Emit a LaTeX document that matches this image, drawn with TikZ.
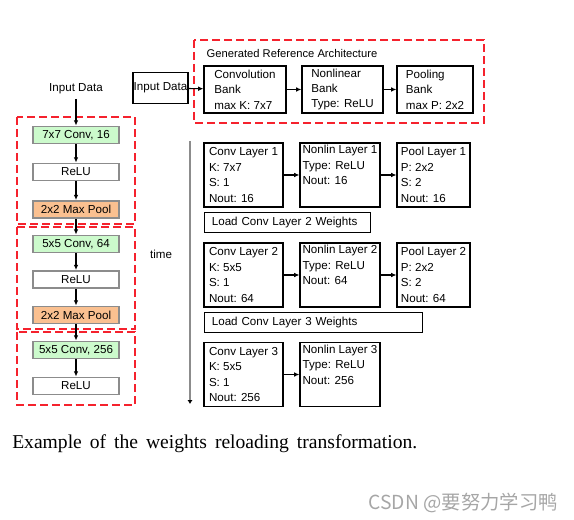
\documentclass[tikz,border=0pt]{standalone}
\usepackage{fontspec}
\setmainfont{Liberation Sans}
\newfontfamily\capfont{Liberation Serif}
\newfontfamily\cjkfont{Noto Sans CJK SC}
\usepackage{tikz}
\usetikzlibrary{arrows.meta,positioning}
\definecolor{convgreen}{HTML}{CCFACC}
\definecolor{poolorange}{HTML}{FAC090}
\definecolor{edgegray}{HTML}{8C8C8C}
\definecolor{dashred}{HTML}{F5222D}

\begin{document}
\begin{tikzpicture}[
  x=0.75pt,y=-0.75pt,
  font=\fontsize{8.7}{11.6}\selectfont,
  layer/.style={draw=edgegray,line width=1.1pt,minimum width=64.5pt,minimum height=13pt,inner sep=0pt},
  box/.style={draw,line width=0.8pt,align=left,inner xsep=1.5pt,inner ysep=1pt},
  bank/.style={box,minimum height=35.25pt},
  stage/.style={box,minimum height=48pt},
  loadbox/.style={draw,line width=0.8pt,align=left,text width=#1,inner xsep=5.5pt,minimum height=14.25pt},
  frame/.style={draw=dashred,line width=1pt,dash pattern=on 6pt off 3pt},
  arr/.style={-{Latex[length=4pt,width=3.5pt]},thick}
]
\useasboundingbox (0,0) rectangle (574,520);

% layer stack
\node (indata) at (76,89) {Input Data};
\node[layer,fill=convgreen] (c1) at (76,135) {7x7 Conv, 16};
\node[layer] (r1) at (76,172) {ReLU};
\node[layer,fill=poolorange] (p1) at (76,209.5) {2x2 Max Pool};
\node[layer,fill=convgreen] (c2) at (76,244) {5x5 Conv, 64};
\node[layer] (r2) at (76,279.5) {ReLU};
\node[layer,fill=poolorange] (p2) at (76,315) {2x2 Max Pool};
\node[layer,fill=convgreen] (c3) at (76,350) {5x5 Conv, 256};
\node[layer] (r3) at (76,386) {ReLU};
\draw[frame] (17,117) rectangle (135,224);
\draw[frame] (17,227) rectangle (135,329);
\draw[frame] (17,332) rectangle (135,405);
\draw[arr] (indata) -- (c1);
\draw[arr] (c1) -- (r1);
\draw[arr] (r1) -- (p1);
\draw[arr] (p1) -- (c2);
\draw[arr] (c2) -- (r2);
\draw[arr] (r2) -- (p2);
\draw[arr] (p2) -- (c3);
\draw[arr] (c3) -- (r3);

% reference architecture
\node[box,minimum width=41.25pt,minimum height=23.25pt,inner xsep=0pt] (inbox) at (160.5,88) {Input Data};
\node[bank,minimum width=61.5pt] (convbank) at (245,89.5) {Convolution\\Bank\\max K: 7x7};
\node[bank,minimum width=60.75pt] (nlbank) at (342.5,89.5) {Nonlinear\\Bank\\Type: ReLU};
\node[bank,minimum width=57pt] (poolbank) at (435,89.5) {Pooling\\Bank\\max P: 2x2};
\node[anchor=west,font=\fontsize{8.4}{10}\selectfont] (gentitle) at (202,54) {Generated Reference Architecture};
\draw[frame] (194,40) rectangle (484,123);
\draw[arr] (inbox) -- (convbank);
\draw[arr] (convbank) -- (nlbank);
\draw[arr] (nlbank) -- (poolbank);

% time axis
\node (time) at (161,254) {time};
\coordinate (ttop) at (190,141);
\coordinate (tbot) at (190,404);
\draw[draw=edgegray,line width=1.2pt,-{Latex[length=3pt,width=4pt,color=black]}] (ttop) -- (tbot);

% reloaded layers
\node[stage,minimum width=59.25pt] (conv1) at (243.5,175) {Conv Layer 1\\K: 7x7\\S: 1\\Nout: 16};
\node[stage,minimum width=60pt] (nl1) at (340,175) {Nonlin Layer 1\\Type: ReLU\\Nout: 16\\\strut};
\node[stage,minimum width=54.75pt] (pool1) at (433.5,175) {Pool Layer 1\\P: 2x2\\S: 2\\Nout: 16};
\node[loadbox=113.5pt,anchor=west] (load2) at (204,222.5) {Load Conv Layer 2 Weights};
\node[stage,minimum width=59.25pt] (conv2) at (243.5,275) {Conv Layer 2\\K: 5x5\\S: 1\\Nout: 64};
\node[stage,minimum width=60pt] (nl2) at (340,275) {Nonlin Layer 2\\Type: ReLU\\Nout: 64\\\strut};
\node[stage,minimum width=54.75pt] (pool2) at (433.5,275) {Pool Layer 2\\P: 2x2\\S: 2\\Nout: 64};
\node[loadbox=152.5pt,anchor=west] (load3) at (204,322.5) {Load Conv Layer 3 Weights};
\node[stage,minimum width=59.25pt] (conv3) at (243.5,374.5) {Conv Layer 3\\K: 5x5\\S: 1\\Nout: 256};
\node[stage,minimum width=60pt] (nl3) at (340,374.5) {Nonlin Layer 3\\Type: ReLU\\Nout: 256\\\strut};
\draw[arr] (conv1) -- (nl1);
\draw[arr] (nl1) -- (pool1);
\draw[arr] (conv2) -- (nl2);
\draw[arr] (nl2) -- (pool2);
\draw[arr] (conv3) -- (nl3);

% caption and mark
\node[anchor=west,inner sep=0pt,font=\capfont\fontsize{14.7}{16}\selectfont] (caption) at (12,444) {\makebox[303.75pt][s]{Example of the weights reloading transformation.}};
\node[anchor=east,inner sep=0pt,text=black!35,font=\cjkfont\fontsize{14.5}{16}\selectfont] (mark) at (558,503) {CSDN @要努力学习鸭};
\end{tikzpicture}
\end{document}
